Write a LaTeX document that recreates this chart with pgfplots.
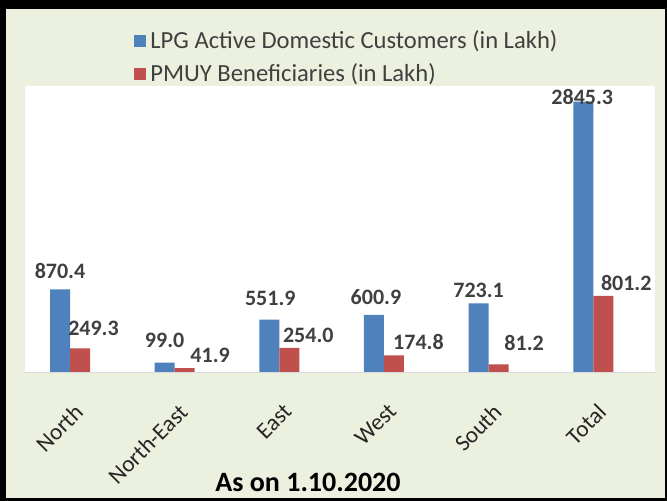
\documentclass[border=0pt]{standalone}
\usepackage{pgfplots}
\pgfplotsset{compat=1.18}
\usepackage{pgfplotstable}
\usepackage{fontspec}
\setmainfont{Carlito}
\definecolor{cBlue}{HTML}{4F81BD}
\definecolor{cRed}{HTML}{C0504D}
\definecolor{cBg}{HTML}{EBF1DE}
\definecolor{cTxt}{HTML}{404040}

% x = region index, y = value (lakh), dx/dy = label offset from bar top (px)
\pgfplotstableread{
x y dx dy
0 870.4 0 18.5
1 99.0 0 22
2 551.9 1 21.5
3 600.9 2 17.5
4 723.1 0 13
5 2845.3 -1 5
}\lpg
\pgfplotstableread{
x y dx dy
0 249.3 13.5 20
1 41.9 25.5 13
2 254.0 19 12
3 174.8 24.5 13
4 81.2 25.5 21
5 801.2 23 13
}\pmuy

\begin{document}
\begin{tikzpicture}
\fill[black] (-12.5pt,-64.5pt) rectangle (321pt,186pt);
\fill[cBg] (-9.5pt,-63pt) rectangle (320pt,181.5pt);
\begin{axis}[
  at={(0,0)}, anchor=south west, scale only axis,
  width=315pt, height=143pt,
  ybar=0pt, bar width=10pt,
  legend image code/.code={\fill[#1] (0pt,-3pt) rectangle (6pt,3pt);},
  ymin=0, ymax=3010, xmin=-0.43, xmax=5.59,
  axis background/.style={fill=white},
  axis y line=none, axis x line*=bottom,
  x axis line style={draw=black!15,-},
  xtick=data, xticklabels={North,North-East,East,West,South,Total},
  major tick length=0pt,
  xticklabel style={xshift=1.5pt, yshift=-15pt, rotate=45, anchor=north east,
    inner sep=0pt, font=\fontsize{11.6}{14}\selectfont, text=black!85},
  /pgf/number format/assume math mode=true,
  visualization depends on={\thisrow{dx}\as\dx},
  visualization depends on={\thisrow{dy}\as\dy},
  nodes near coords={\pgfmathprintnumber[fixed,fixed zerofill,precision=1,1000 sep={}]{\pgfplotspointmeta}},
  every node near coord/.append style={font=\bfseries\fontsize{11}{13}\selectfont,
    text=cTxt, anchor=center, xshift={0.5pt*\dx}, yshift={0.5pt*\dy}},
  clip=false,
  legend style={at={(0.173,1.101)}, anchor=west, draw=none, fill=none,
    font=\fontsize{12.3}{14}\selectfont, text=cTxt, row sep=2pt, inner sep=0pt},
  legend cell align=left,
]
\addplot[fill=cBlue, draw=none] table[x=x,y=y]{\lpg};
\addlegendentry{LPG Active Domestic Customers (in Lakh)}
\addplot[fill=cRed, draw=none] table[x=x,y=y]{\pmuy};
\addlegendentry{PMUY Beneficiaries (in Lakh)}
\end{axis}
\node[font=\bfseries\fontsize{14}{16}\selectfont] at (141.5pt,-55pt) {As on 1.10.2020};
\end{tikzpicture}
\end{document}
